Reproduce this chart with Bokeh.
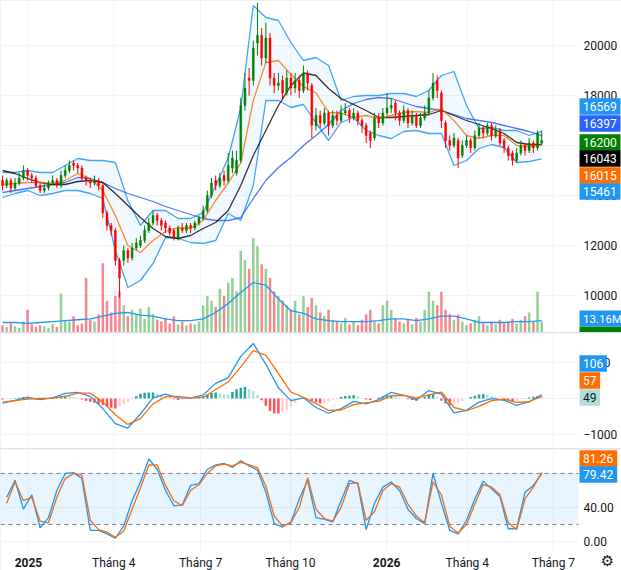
from bokeh.plotting import figure
from bokeh.models import Range1d, BoxAnnotation, ColumnDataSource
from bokeh.core.properties import value
from bokeh.layouts import column
from bokeh.embed import file_html
from bokeh.resources import INLINE

# ---------------- data ----------------
bars = list(range(130))
opens = [14600,14400,14600,14300,14500,14700,15000,14800,14700,14400,
         14200,14300,14500,14600,14400,14800,15000,15300,15200,15100,
         14700,14600,14500,14600,14400,13300,12800,12600,11400,11400,
         11800,11500,11900,12000,12200,12600,12900,13200,13000,12900,
         12700,12600,12300,12700,12600,12800,12700,12900,13100,13400,
         14000,14600,14400,14800,14600,15100,14900,15400,17600,18700,
         18600,20100,20400,19500,20300,18700,18400,18600,18100,18700,
         18300,18600,18200,18900,18400,16800,17200,16900,17300,16800,
         17200,17000,17300,17400,17100,17300,17000,16800,16500,16300,
         17100,16900,17300,17500,17700,17300,17000,17400,16900,17200,
         16800,17100,17300,17900,18600,18100,16900,16200,16000,16200,
         15600,16000,16200,15900,16400,16700,16500,16800,16400,16600,
         16200,15900,15700,15400,15700,16000,15800,16100,15900,16100]
closes = [14400,14600,14300,14500,14700,15000,14800,14700,14400,14200,
          14300,14500,14600,14400,14800,15000,15200,15200,15100,14700,
          14600,14500,14600,14400,13300,12800,12600,11400,10700,11800,
          11500,11900,12100,12200,12600,12900,13200,13000,12800,12700,
          12500,12300,12700,12600,12800,12700,12900,13100,13400,14000,
          14500,14400,14700,14600,15200,15500,15400,17600,18300,18600,
          19900,20400,19500,20300,18700,18400,18500,18100,18700,18300,
          18600,18200,18900,18500,16800,17200,16900,17300,16800,17200,
          17000,17300,17400,17100,17300,17000,16800,16400,16200,17100,
          16900,17300,17500,17600,17300,17000,17400,16900,17200,16800,
          17100,17300,17900,18500,18200,17000,16200,16000,16300,15500,
          16000,16200,15900,16400,16700,16500,16800,16400,16600,16100,
          15900,15600,15400,15700,16000,15800,16100,15900,16500,16200]
highs = [14800,14700,14700,14700,14900,15200,15100,14900,14800,14500,
         14500,14600,14800,14700,15000,15200,15400,15400,15300,15200,
         14800,14700,14800,14700,14500,13400,12900,12700,11500,12000,
         11900,12100,12300,12400,12800,13100,13400,13300,13100,13000,
         12800,12700,12800,12900,12900,12900,13000,13200,13600,14200,
         14700,14800,14900,15000,15700,15800,15800,17900,18900,19100,
         20200,21700,20700,20900,20500,18900,18900,18800,19000,18900,
         18900,18800,19200,19000,18500,17500,17400,17500,17400,17400,
         17400,17600,17700,17500,17500,17400,17100,16900,16600,17300,
         17300,17500,18100,17900,17800,17400,17600,17500,17400,17300,
         17300,17600,18200,18900,18800,18200,17000,16400,16500,16300,
         16200,16400,16300,16600,16900,16800,16900,16900,16800,16700,
         16300,16000,15800,15900,16200,16100,16300,16200,16600,16600]
lows = [14200,14300,14100,14200,14400,14600,14600,14500,14300,14100,
        14100,14200,14400,14300,14300,14700,14900,15000,14900,14600,
        14400,14300,14400,14200,13100,12600,12400,11200,9900,11200,
        11300,11400,11800,11900,12100,12500,12800,12800,12600,12500,
        12400,12200,12200,12500,12500,12500,12600,12800,13000,13300,
        13900,14200,14300,14400,14500,14900,14800,15300,17400,18000,
        18400,19600,19200,19300,18400,18100,18200,17800,18000,18000,
        18100,17900,18100,18200,16300,16600,16700,16800,16400,16700,
        16800,16900,17200,16900,17000,16800,16500,16100,15900,16200,
        16700,16800,17200,17300,17000,16800,16900,16700,16800,16700,
        16700,17000,17200,17800,17900,16700,15900,15800,15900,15100,
        15500,15900,15700,15800,16300,16300,16400,16200,16300,16000,
        15700,15400,15200,15300,15600,15600,15700,15700,15800,16000]
volume_m = [8,6,10,7,5,12,25,9,6,8,
            7,5,9,6,43,14,12,18,8,10,
            60,14,12,20,76,35,22,40,45,30,
            18,25,20,26,15,28,20,14,12,16,
            10,18,9,12,8,10,9,12,30,40,
            35,28,48,40,55,60,45,90,80,70,
            104,95,75,70,60,45,40,35,30,25,
            35,20,40,28,38,30,22,18,25,14,
            12,10,16,9,12,8,14,20,25,12,
            10,30,35,25,15,12,10,14,9,16,
            12,25,45,35,30,45,25,20,14,20,
            12,8,10,14,18,10,8,12,9,14,
            10,12,15,10,14,18,22,12,45,12]

ind_x = list(range(0, 130, 3))
ma20 = [14440,14480,14520,14520,14480,14600,14880,14680,14200,13200,12000,11720,12200,12560,12720,12680,13000,13800,14500,15300,
        17800,19320,19400,18840,18360,18100,17320,17300,17120,17200,17080,17200,17320,17360,17320,17480,17000,16400,16280,16400,
        16400,16000,15960,16015]
bb_upper = [14920,14920,15000,14920,14920,15200,15480,15400,15400,15320,13800,12800,13400,13400,13080,13080,13320,14400,15500,17500,
            21600,21120,21000,20120,19400,19520,19200,17800,17960,18000,18000,18080,18080,17960,18200,18800,18960,17600,16680,16720,
            16600,16600,16400,16569]
bb_lower = [13920,14080,14200,14000,14080,14200,14200,14080,13880,11800,10320,10600,11280,12320,12280,12120,12080,12200,13280,13000,
            14400,17800,17800,17520,17640,16900,16200,16920,17120,16600,16400,16280,16560,16600,16480,16480,15200,15400,15880,16040,
            15920,15320,15360,15461]
ma50 = [15000,14880,14680,14520,14440,14440,14560,14600,14520,14080,13600,13120,12680,12360,12280,12400,12680,12920,13400,14400,
        15600,16600,17600,18400,18900,18800,18280,17880,17640,17400,17120,17120,17160,17200,17240,17400,17200,17000,16840,16680,
        16480,16120,16040,16043]
ma200 = [14120,14200,14280,14360,14440,14520,14720,14680,14520,14280,14080,13920,13760,13560,13400,13240,13080,13000,13000,13120,
         13880,14600,15120,15520,16000,16400,16840,17400,17680,17840,17920,17880,17720,17560,17480,17400,17240,17080,17000,16920,
         16800,16680,16560,16397]
vol_ma = [11,11,10,11,12,13,14,15,18,21,22,19,18,15,13,13,15,22,32,44,
          55,52,37,24,21,15,13,12,12,12,13,15,15,13,15,18,18,15,11,11,
          11,12,12,13.16]

macd_line = [-130,-50,30,-30,20,140,170,60,-280,-700,-820,-430,20,120,20,10,100,420,580,1170,
             1530,950,300,-60,20,-250,-410,-280,-80,-150,-30,170,90,-40,220,120,-400,-330,-100,0,
             -50,-190,-90,106]
macd_signal = [-100,-60,-20,0,10,60,150,150,-100,-450,-720,-560,-150,50,60,20,30,250,460,880,
               1330,1200,700,180,30,-140,-330,-320,-170,-120,-80,80,90,20,100,180,-250,-340,-220,-60,
               -20,-110,-90,57]
macd_hist = [-30,-10,10, 10,20,40, 50,30,-20, -30,-10,10, 20,40,60, 80,70,50, 20,-30,-60,
             -90,-120,-150, -180,-220,-260, -280,-220,-150, -100,-20,60, 130,160,170, 170,140,100,
             60,20,-20, -40,-30,-10, 0,20,40, 70,110,150, 170,140,110, 100,180,260, 300,320,260,
             200,100,-50, -200,-350,-420, -420,-380,-300, -220,-120,-20, 30,0,-60, -110,-140,-120,
             -80,-50,10, 40,70,80, 90,60,10, -30,-40,-10, 30,60,90, 90,60,20, 0,-20,-40,
             -60,-30,40, 110,130,40, -60,-140,-190, -170,-120,-60, 0,40,80, 110,120,100,
             70,40,0, -40,-70,-80, -60,-20,10, 30,50,70, 49]

stoch_x = list(range(1, 130, 2))
stoch_k = [52,72,38,55,16,28,60,80,81,74,13,13,9,4,18,48,70,97,85,60,
           42,43,66,68,85,90,92,87,95,89,84,58,21,17,23,50,72,28,26,23,
           48,72,68,14,45,64,70,60,38,27,21,80,45,13,9,25,50,71,62,53,
           15,15,58,66,79.42]
stoch_d = [45,70,48,52,24,22,52,74,80,78,25,14,11,5,12,38,63,90,90,66,
           48,42,60,67,80,89,91,89,93,90,87,65,30,18,22,40,75,38,27,24,
           40,68,69,25,35,60,68,64,44,30,22,70,55,18,10,20,44,67,64,55,
           22,14,50,64,81.26]

tick_pos = [6.2, 26.6, 47.4, 68.9, 91.9, 111.2, 131.8]
tick_labels = ["2025", "Tháng 4", "Tháng 7", "Tháng 10", "2026", "Tháng 4", "Tháng 7"]
price_ticks = [10000, 12000, 14000, 16000, 18000, 20000]
price_tick_labels = ["10000", "12000", "14000", "16000", "18000", "20000"]
macd_ticks = [-1000, 0, 1000]
macd_tick_labels = ["\u22121000", "0", "1000"]
stoch_ticks = [0, 40, 80]
stoch_tick_labels = ["0.00", "40.00", "80.00"]
stoch_bands = [20, 80]

# last values shown as badges on the price scales
main_badge_text = ["16569", "16397", "16200", "16043", "16015", "15461"]
main_badge_bg = ["#2196f3", "#2962ff", "#008000", "#000000", "#ff6d00", "#2196f3"]
main_badge_fg = ["white"] * 6
vol_badge_text = ["13.16M"]
macd_badge_text = ["106", "57", "49"]
macd_badge_bg = ["#2196f3", "#ff6d00", "#b2dfdb"]
macd_badge_fg = ["white", "white", "#131722"]
stoch_badge_text = ["81.26", "79.42"]
stoch_badge_bg = ["#ff6d00", "#2196f3"]
stoch_badge_fg = ["white", "white"]

# ---------------- layout / styling ----------------
FONT = "Roboto"
TXT = "#131722"
GRID = "#f0f3fa"
W = 621


def px2i(px):          # screen column -> bar-index coordinate
    return (px - 2) / 4.18


AX = px2i(578)         # where the price scale begins
xr = Range1d(px2i(0), px2i(621))


def pane(height, ylo, yhi):
    p = figure(width=W, height=height, x_range=xr, y_range=Range1d(ylo, yhi),
               output_backend="svg", toolbar_location=None,
               x_axis_location=None, y_axis_location=None,
               min_border_left=0, min_border_right=0, min_border_top=0, min_border_bottom=0)
    p.outline_line_color = None
    p.grid.grid_line_color = None
    p.background_fill_color = "white"
    p.border_fill_color = "white"
    return p


def gridlines(p, yticks, ylo, yhi):
    n = len(yticks)
    p.segment(x0=[xr.start] * n, x1=[AX] * n, y0=yticks, y1=yticks, line_color=GRID, line_width=1)
    m = len(tick_pos)
    p.segment(x0=tick_pos, x1=tick_pos, y0=[ylo] * m, y1=[yhi] * m, line_color=GRID, line_width=1)


def scale_labels(p, ticks, labels):
    p.text(x=[px2i(583)] * len(ticks), y=ticks, text=labels, text_font=value(FONT),
           text_font_size="12px", text_color=TXT, text_align="left", text_baseline="middle")


def badges(p, texts, ys, half, bg, fg, fsize="12px", extra=0):
    widths = []
    for t in texts:
        digits = sum(ch.isdigit() for ch in t)
        other = len(t) - digits
        widths.append(6.8 * digits + 3.5 * other + 7 + extra)
    src = ColumnDataSource(dict(
        left=[px2i(579)] * len(texts), right=[px2i(579 + w) for w in widths],
        top=[y + half for y in ys], bottom=[y - half for y in ys],
        tx=[px2i(582.5)] * len(texts), y=ys, text=texts, bg=bg, fg=fg))
    p.quad(left="left", right="right", top="top", bottom="bottom", fill_color="bg",
           line_color=None, source=src)
    p.text(x="tx", y="y", text="text", text_color="fg", text_font=value(FONT),
           text_font_size=fsize, text_align="left", text_baseline="middle", source=src)


# ---- main pane ----
MAIN_LO, MAIN_HI = 8520, 21800
main = pane(332, MAIN_LO, MAIN_HI)
main.extra_y_ranges = {"vol": Range1d(0, 365)}
gridlines(main, price_ticks, MAIN_LO, MAIN_HI)

up = [c >= o for o, c in zip(opens, closes)]
src = ColumnDataSource(dict(
    x=bars, h=highs, l=lows, v=volume_m,
    top=[max(o, c) for o, c in zip(opens, closes)],
    bot=[min(o, c) for o, c in zip(opens, closes)],
    col=["#008000" if u else "#ff0000" for u in up],
    vcol=["#4caf50" if u else "#f23645" for u in up],
))
main.vbar(x="x", width=0.6, top="v", bottom=0, fill_color="vcol", line_color=None,
          fill_alpha=0.6, source=src, y_range_name="vol")
main.line(ind_x, vol_ma, line_color="#2196f3", line_width=1.3, y_range_name="vol")

main.varea(x=ind_x, y1=bb_lower, y2=bb_upper, fill_color="#2196f3", fill_alpha=0.06)
main.line(ind_x, bb_upper, line_color="#42a5f5", line_width=1.3)
main.line(ind_x, bb_lower, line_color="#42a5f5", line_width=1.3)
main.line(ind_x, ma200, line_color="#2962ff", line_width=1.3, line_alpha=0.85)
main.line(ind_x, ma50, line_color="#000000", line_width=1.3, line_alpha=0.8)
main.line(ind_x, ma20, line_color="#ff6d00", line_width=1.3, line_alpha=0.8)

main.segment(x0="x", y0="l", x1="x", y1="h", line_color="col", line_width=1, source=src)
main.vbar(x="x", width=0.45, top="top", bottom="bot", fill_color="col", line_color="col",
          line_width=0.5, source=src)

scale_labels(main, price_ticks, price_tick_labels)
badges(main, main_badge_text, [17560, 16880, 16120, 15480, 14800, 14160], 334,
       main_badge_bg, main_badge_fg)
# volume: green sliver of the last-bar badge, then the volume-average badge
main.quad(left=[px2i(579)], right=[px2i(621)], top=[8760], bottom=[8520], fill_color="#008000",
          line_color=None)
badges(main, vol_badge_text, [9080], 320, ["#2196f3"], ["white"], "11.5px", extra=20)

# ---- MACD pane ----
MACD_LO, MACD_HI = -1389, 1806
macd = pane(115, MACD_LO, MACD_HI)
gridlines(macd, macd_ticks, MACD_LO, MACD_HI)
hcol = []
for i, hv in enumerate(macd_hist):
    prev = macd_hist[i - 1] if i > 0 else hv
    if hv >= 0:
        hcol.append("#26a69a" if hv >= prev else "#b2dfdb")
    else:
        hcol.append("#ff5252" if hv <= prev else "#ffcdd2")
macd.vbar(x=bars, width=0.6, top=macd_hist, bottom=0, fill_color=hcol, line_color=None)
macd.line(ind_x, macd_line, line_color="#2196f3", line_width=1.3)
macd.line(ind_x, macd_signal, line_color="#ff6d00", line_width=1.3)
scale_labels(macd, macd_ticks, macd_tick_labels)
badges(macd, macd_badge_text, [972, 500, 28], 232, macd_badge_bg, macd_badge_fg)

# ---- Stochastic pane (with the time scale strip below it) ----
ST_LO, ST_HI, ST_BOTTOM = -10.6, 108.2, -34.1
st = pane(121, ST_BOTTOM, ST_HI)
gridlines(st, stoch_ticks, ST_LO, ST_HI)
st.add_layout(BoxAnnotation(bottom=stoch_bands[0], top=stoch_bands[1], right=AX,
                            fill_color="#2196f3", fill_alpha=0.1, line_color=None))
st.segment(x0=[xr.start] * 2, x1=[AX] * 2, y0=stoch_bands, y1=stoch_bands,
           line_color="#787b86", line_dash="4 4", line_width=1)
st.line(stoch_x, stoch_k, line_color="#2196f3", line_width=1.3)
st.line(stoch_x, stoch_d, line_color="#ff6d00", line_width=1.3)
scale_labels(st, stoch_ticks, stoch_tick_labels)
badges(st, stoch_badge_text, [97.6, 78.8], 9.8, stoch_badge_bg, stoch_badge_fg)

yr_x = [p for p, t in zip(tick_pos, tick_labels) if t.isdigit()]
yr_t = [t for t in tick_labels if t.isdigit()]
mo_x = [p for p, t in zip(tick_pos, tick_labels) if not t.isdigit()]
mo_t = [t for t in tick_labels if not t.isdigit()]
LBL_Y = -24.7
st.text(x=mo_x, y=[LBL_Y] * len(mo_x), text=mo_t, text_font=value(FONT), text_font_size="12px",
        text_color=TXT, text_align="center", text_baseline="middle")
st.text(x=yr_x, y=[LBL_Y] * len(yr_x), text=yr_t, text_font=value(FONT), text_font_size="12px",
        text_font_style="bold", text_color=TXT, text_align="center", text_baseline="middle")
st.text(x=[px2i(607)], y=[-22.5], text=["\u2699"], text_font=value("DejaVu Sans"),
        text_font_size="15px", text_color=TXT, text_align="center", text_baseline="middle")

layout = column(main, macd, st, spacing=1, styles={"background-color": "#e0e3eb"})
open("out.html", "w").write(file_html(layout, INLINE))
